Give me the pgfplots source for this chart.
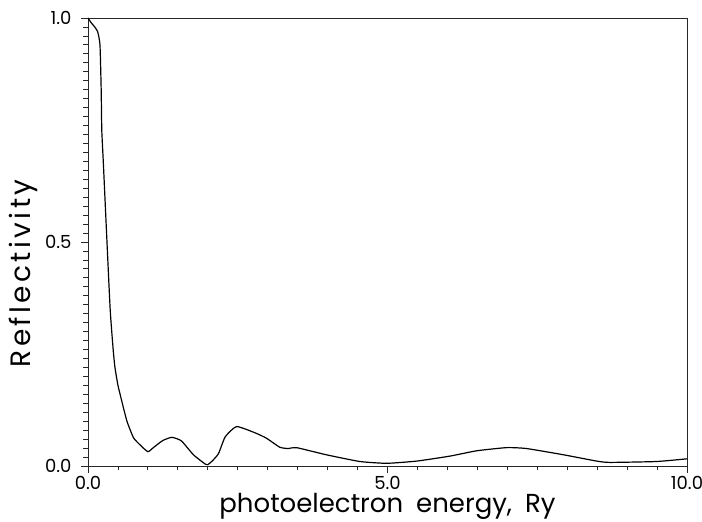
\documentclass[border=0pt]{standalone}
\usepackage{fontspec}
\setmainfont{Poppins}
\newfontfamily\ylfont[LetterSpace=12]{Poppins}
\usepackage{pgfplots}
\pgfplotsset{compat=1.18}
\begin{document}
\begin{tikzpicture}
\begin{axis}[
  name=ax,
  at={(0,0)}, anchor=south west,
  scale only axis,
  width=599pt, height=448pt,
  xmin=0, xmax=10, ymin=0, ymax=1,
  axis line style={line width=0.8pt, black!85},
  xtick={0,5,10},
  xticklabels={0.0,5.0,10.0},
  ytick={0,0.5,1},
  yticklabels={0.0,0.5,1.0},
  minor xtick={0,0.5,...,10},
  minor ytick={0,0.02,...,1.001},
  tick align=outside,
  xtick pos=bottom, ytick pos=left,
  major tick length=7pt, minor tick length=4.5pt,
  tick style={line width=0.8pt, black!85},
  /pgf/number format/assume math mode=true,
  ticklabel style={font=\fontsize{18}{20}\selectfont},
  xticklabel style={yshift=0pt},
  yticklabel style={xshift=-6pt},
  xlabel={photoelectron\enspace energy,\enspace Ry},
  ylabel={\ylfont Reflectivity},
  label style={font=\fontsize{26}{30}\selectfont},
  ylabel style={font=\fontsize{28}{32}\selectfont},
  xlabel style={at={(axis description cs:0.5,0)}, anchor=base, yshift=-47pt},
  ylabel style={at={(axis description cs:-0.107,0.43)}, anchor=center},
]
\addplot[black, line width=1.2pt, smooth, tension=0.3] coordinates {
(0,1.0) (0.05,0.99) (0.1,0.982) (0.16,0.97) (0.2,0.94) (0.22,0.84) (0.23,0.75)
(0.255,0.68) (0.31,0.52) (0.37,0.35) (0.42,0.26) (0.45,0.22) (0.5,0.18)
(0.56,0.147) (0.65,0.10) (0.76,0.063) (0.87,0.047) (1.0,0.032) (1.1,0.042)
(1.25,0.057) (1.40,0.064) (1.56,0.056) (1.76,0.025) (1.95,0.005) (2.0,0.003)
(2.08,0.012) (2.18,0.028) (2.29,0.065) (2.48,0.088) (2.79,0.074) (2.98,0.062)
(3.2,0.042) (3.34,0.039) (3.48,0.041) (3.98,0.025) (4.54,0.010) (4.99,0.006)
(5.49,0.011) (6.04,0.022) (6.49,0.034) (6.99,0.041) (7.32,0.039) (7.94,0.025)
(8.49,0.011) (8.71,0.008) (9.49,0.010) (10,0.016)
};
\end{axis}
\pgfresetboundingbox
\path (ax.south west) ++(-88pt,-56pt) coordinate (bl);
\path (ax.north east) ++(15pt,18pt) coordinate (tr);
\path[use as bounding box] (bl) rectangle (tr);
\end{tikzpicture}
\end{document}
